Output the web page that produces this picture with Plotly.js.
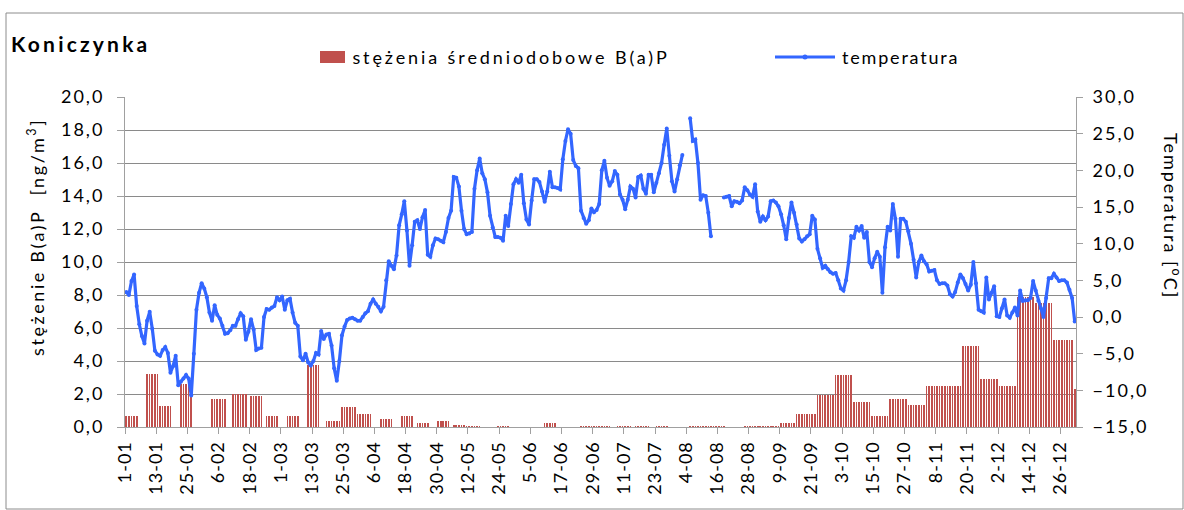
<!DOCTYPE html>
<html><head><meta charset="utf-8">
<script src="https://cdn.plot.ly/plotly-3.0.1.min.js"></script>
<style>
html,body{margin:0;padding:0;background:#fff}
#chart{width:1184px;height:510px}
#chart .ytick text,#chart .y2tick text{letter-spacing:2px}
#chart .xtick text{letter-spacing:1px}
#chart g.annotation[data-index="0"] text{letter-spacing:3.2px}
#chart g.annotation[data-index="1"] text{letter-spacing:2.9px}
#chart g.annotation[data-index="2"] text{letter-spacing:1.8px}
#chart g.annotation[data-index="3"] text{letter-spacing:2px}
#chart g.annotation[data-index="4"] text{letter-spacing:2.6px}
</style>
</head><body><div id="chart"></div>
<script>
// Tick positions (day of year, 0 = 1 Jan 2008) and labels
const tickDays = [0,12,24,36,48,60,72,84,96,108,120,132,144,156,168,180,192,204,216,228,240,252,264,276,288,300,312,324,336,348,360];
const tickLabels = ['1-01','13-01','25-01','6-02','18-02','1-03','13-03','25-03','6-04','18-04','30-04','12-05','24-05','5-06','17-06','29-06','11-07','23-07','4-08','16-08','28-08','9-09','21-09','3-10','15-10','27-10','8-11','20-11','2-12','14-12','26-12'];

// B(a)P sampling periods (first day, last day) and concentration [ng/m3]
const bapFrom  = [0,8,13,21,33,41,48,54,62,70,77,83,89,98,106,112,120,126,131,143,161,175,189,196,204,217,238,252,258,266,273,280,287,294,301,308,322,329,336,343,350,357,365];
const bapTo    = [4,12,17,25,38,46,52,58,66,74,82,88,94,102,110,116,124,130,136,147,165,186,194,201,208,230,251,257,265,272,279,286,293,300,307,321,328,335,342,349,356,364,365];
const bapValue = [0.65,3.2,1.3,2.6,1.72,2.0,1.86,0.65,0.65,3.75,0.35,1.2,0.77,0.47,0.65,0.22,0.35,0.1,0.08,0.08,0.22,0.08,0.08,0.08,0.08,0.08,0.08,0.22,0.77,1.92,3.14,1.5,0.65,1.72,1.32,2.47,4.9,2.9,2.47,7.9,7.5,5.26,2.3];

// Daily mean temperature [°C], day 0 .. 365
const temperature = [
 3.4,3.0,4.9,5.8,1.5,-1.0,-2.6,-3.6,-0.5,0.7,
 -1.6,-4.6,-5.1,-5.3,-4.5,-4.1,-4.9,-7.6,-6.7,-5.3,
 -9.3,-8.8,-8.4,-7.9,-8.4,-10.7,-5.0,1.0,3.3,4.6,
 3.9,2.7,0.6,-0.5,1.6,0.3,-0.2,-1.2,-2.3,-2.2,
 -1.8,-1.2,-1.2,-0.3,0.5,0.1,-3.1,-2.0,-0.3,-1.7,
 -4.5,-4.3,-4.2,0.0,1.1,1.0,1.3,1.5,2.7,2.3,
 2.8,1.0,2.3,2.5,0.6,-0.8,-1.2,-5.4,-5.9,-5.0,
 -6.2,-6.6,-6.0,-4.9,-5.1,-1.9,-3.0,-2.4,-2.3,-3.9,
 -7.0,-8.7,-6.0,-2.5,-1.3,-0.4,-0.2,-0.1,-0.3,-0.5,
 -0.5,0.0,0.5,0.8,1.8,2.4,1.8,1.4,0.8,1.4,
 5.0,7.6,7.0,6.5,8.4,12.5,14.0,15.8,11.8,7.0,
 9.8,13.0,13.2,12.0,13.6,14.6,8.5,8.2,9.8,10.7,
 10.6,10.4,10.2,11.6,13.5,14.5,19.1,19.0,17.8,14.5,
 12.0,11.3,11.4,11.6,17.5,20.0,21.6,19.6,18.8,17.0,
 13.8,12.2,10.9,10.9,10.8,10.4,13.8,12.4,15.4,18.1,
 18.8,18.3,19.4,15.5,13.3,12.6,15.9,18.8,18.8,18.4,
 17.1,15.7,17.1,19.8,17.7,17.7,17.6,17.4,21.5,24.0,
 25.6,25.0,21.4,20.6,20.3,14.5,13.5,12.7,13.2,14.8,
 14.3,14.6,15.4,20.0,21.3,19.0,17.9,18.5,19.9,19.4,
 16.7,16.0,14.7,16.0,17.8,17.5,16.3,19.1,19.3,17.5,
 16.8,19.4,19.4,17.0,18.3,19.6,21.0,23.5,25.7,22.0,
 18.5,17.1,18.8,20.7,22.1,null,null,27.1,24.0,24.2,
 21.0,16.0,16.6,16.5,14.2,11.0,null,null,null,null,
 16.3,16.4,16.5,15.1,15.8,15.7,15.5,15.9,17.7,17.3,
 16.7,16.4,18.1,14.4,13.0,13.7,13.2,13.7,15.8,15.9,
 15.6,15.1,14.0,12.5,10.6,13.5,15.6,14.2,12.6,10.7,
 10.3,10.6,11.0,11.3,13.8,13.3,9.3,8.0,6.7,7.0,
 6.5,6.1,5.9,6.0,5.0,3.9,3.6,5.0,7.5,11.0,
 10.8,12.3,11.8,12.4,10.8,11.6,7.5,6.8,8.0,8.9,
 8.2,3.3,9.5,12.3,11.8,15.4,13.4,8.2,13.4,13.4,
 13.0,11.7,10.0,7.8,5.4,7.5,8.4,7.6,7.2,6.2,
 6.3,6.4,5.0,4.5,4.6,4.6,4.3,3.1,2.8,3.4,
 4.7,5.8,5.3,4.5,3.6,4.4,7.5,4.6,1.0,0.8,
 0.6,5.4,2.4,3.3,4.2,0.1,0.0,1.2,2.4,0.2,
 -0.1,0.6,1.3,0.2,3.6,2.2,2.3,2.3,2.6,4.9,
 3.6,2.2,1.2,0.0,2.6,5.3,5.3,5.9,5.4,4.9,
 5.0,5.0,4.7,3.7,2.6,-0.6
];

// each sampling-period value is shown on every day of its period
const barX = [], barY = [];
bapFrom.forEach((f, i) => { for (let d = f; d <= bapTo[i]; d++) { barX.push(d + 0.5); barY.push(bapValue[i]); } });
const tempX = temperature.map((_, d) => d + 0.5);

const FONT = 'Lato, "Open Sans", sans-serif';
const L = 125, R = 108, T = 97, B = 83, W = 1184, H = 510;
const PW = W - L - R, PH = H - T - B;
const px = v => (v - L) / PW;
const py = v => (H - B - v) / PH;

const traces = [
  { type: 'bar', name: 'stężenia średniodobowe B(a)P', x: barX, y: barY, width: 0.62,
    marker: { color: '#C0504D', line: { width: 0 } }, showlegend: false },
  { type: 'scatter', mode: 'lines+markers', name: 'temperatura', x: tempX, y: temperature, yaxis: 'y2',
    line: { color: '#3366FF', width: 3.2 }, marker: { color: '#3366FF', size: 4 }, connectgaps: false, showlegend: false }
];

const axisCommon = { ticks: 'outside', tickcolor: '#a0a0a0', showline: true, linecolor: '#a0a0a0', linewidth: 1,
  zeroline: false, tickfont: { family: FONT, size: 18, color: '#000' }, fixedrange: true };

const layout = {
  width: W, height: H, margin: { l: L, r: R, t: T, b: B }, paper_bgcolor: '#fff', plot_bgcolor: '#fff',
  separators: ', ', font: { family: FONT, color: '#000' }, showlegend: false, bargap: 0,
  xaxis: Object.assign({}, axisCommon, { range: [0, 366], tickmode: 'array', tickvals: tickDays, ticktext: tickLabels,
    tickangle: -90, ticklen: 6, showgrid: false }),
  yaxis: Object.assign({}, axisCommon, { range: [0, 20], tick0: 0, dtick: 2, tickformat: '.1f', ticklen: 7,
    ticklabelstandoff: 9, showgrid: true, gridcolor: '#8a8a8a', gridwidth: 1 }),
  yaxis2: Object.assign({}, axisCommon, { overlaying: 'y', side: 'right', range: [-15, 30], tick0: -15, dtick: 5,
    tickformat: '.1f', ticklen: 6, ticklabelstandoff: 6, showgrid: false }),
  shapes: [
    { type: 'rect', xref: 'paper', yref: 'paper', x0: px(6), x1: px(1183), y0: py(509), y1: py(13), line: { color: '#8c8c8c', width: 1 }, layer: 'above' },
    { type: 'rect', xref: 'paper', yref: 'paper', x0: px(320), x1: px(345), y0: py(63), y1: py(51), fillcolor: '#C0504D', line: { width: 0 } },
    { type: 'line', xref: 'paper', yref: 'paper', x0: px(775), x1: px(835), y0: py(57), y1: py(57), line: { color: '#3366FF', width: 3 } },
    { type: 'circle', xref: 'paper', yref: 'paper', x0: px(802.5), x1: px(807.5), y0: py(59.5), y1: py(54.5), fillcolor: '#3366FF', line: { width: 0 } }
  ],
  annotations: [
    { text: '<b>Koniczynka</b>', xref: 'paper', yref: 'paper', x: px(80), y: py(43), xanchor: 'center', yanchor: 'middle',
      showarrow: false, font: { family: FONT, size: 21, color: '#000' } },
    { text: 'stężenia średniodobowe B(a)P', xref: 'paper', yref: 'paper', x: px(511), y: py(57), xanchor: 'center', yanchor: 'middle',
      showarrow: false, font: { family: FONT, size: 18, color: '#000' } },
    { text: 'temperatura', xref: 'paper', yref: 'paper', x: px(900), y: py(57), xanchor: 'center', yanchor: 'middle',
      showarrow: false, font: { family: FONT, size: 18, color: '#000' } },
    { text: 'Temperatura [<sup>o</sup>C]', xref: 'paper', yref: 'paper', x: px(1172), y: py(216), xanchor: 'center', yanchor: 'middle',
      textangle: 90, showarrow: false, font: { family: FONT, size: 18, color: '#000' } },
    { text: 'stężenie B(a)P  [ng/m<sup>3</sup>]', xref: 'paper', yref: 'paper', x: px(36), y: py(237), xanchor: 'center', yanchor: 'middle',
      textangle: -90, showarrow: false, font: { family: FONT, size: 18, color: '#000' } }
  ]
};

Plotly.newPlot('chart', traces, layout, { displayModeBar: false, staticPlot: true });
</script></body></html>
